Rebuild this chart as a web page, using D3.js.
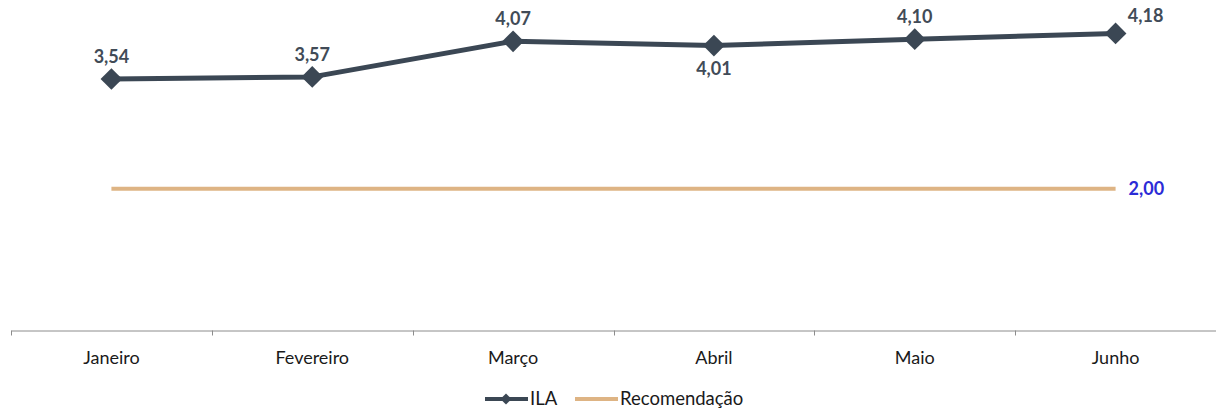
<!DOCTYPE html>
<html>
<head>
<meta charset="utf-8">
<script src="https://cdn.jsdelivr.net/npm/d3@7"></script>
<style>
  body { margin: 0; background: #fff; }
  svg { display: block; }
</style>
</head>
<body>
<div id="graph"></div>
<script>
//Data
const months = ["Janeiro", "Fevereiro", "Março", "Abril", "Maio", "Junho"];
const ila = [3.54, 3.57, 4.07, 4.01, 4.10, 4.18];
const recomendacao = [2.00, 2.00, 2.00, 2.00, 2.00, 2.00];
const labelSide = ["above", "above", "above", "below", "above", "right"];

//Display specifications
const W = 1216, H = 408;
const margin = {top: 0, right: 0, bottom: 77, left: 11};
const width = W - margin.left - margin.right;
const height = H - margin.top - margin.bottom;

const fmt = v => d3.format(".2f")(v).replace(".", ",");
const font = "Lato, 'Open Sans', sans-serif";

const svg = d3.select("#graph").append("svg")
  .attr("width", W).attr("height", H);

const g = svg.append("g")
  .attr("transform", "translate(" + margin.left + "," + margin.top + ")");

//Scales
const x = d3.scaleBand().domain(months).range([0, width]).padding(0);
const y = d3.scaleLinear().domain([0, 4.65]).range([height, 0]);
const cx = d => x(d) + x.bandwidth() / 2;

//X axis
const axis = g.append("g")
  .attr("transform", "translate(0," + (height - 0.5) + ")")
  .call(d3.axisBottom(x).tickSize(0).tickPadding(20).tickSizeOuter(0));
axis.select(".domain").attr("stroke", "#8c8c8c").attr("stroke-width", 1);
axis.selectAll("text")
  .attr("dy", null)
  .attr("y", 33.5)
  .style("font-family", font)
  .style("font-size", "18px")
  .attr("fill", "#1a1a1a");
const edges = months.map(m => x(m)).concat([width]);
axis.selectAll(".edge").data(edges).enter().append("line")
  .attr("x1", d => Math.round(d) + 0.5).attr("x2", d => Math.round(d) + 0.5)
  .attr("y1", 0).attr("y2", 5)
  .attr("stroke", "#8c8c8c");

//Recomendação line
const line = d3.line().x((d, i) => cx(months[i])).y(d => y(d));
g.append("path")
  .datum(recomendacao)
  .attr("fill", "none")
  .attr("stroke", "#deb484")
  .attr("stroke-width", 4)
  .attr("d", line);
g.append("text")
  .attr("x", cx(months[5]) + 13)
  .attr("y", y(recomendacao[5]) + 6)
  .text(fmt(recomendacao[5]))
  .style("font-family", font).style("font-weight", "bold").style("font-size", "18px")
  .attr("fill", "#2b2bd6");

//ILA line
g.append("path")
  .datum(ila)
  .attr("fill", "none")
  .attr("stroke", "#3b4754")
  .attr("stroke-width", 5)
  .attr("stroke-linejoin", "round")
  .attr("d", line);

const diamond = d3.symbol().type(d3.symbolDiamond2).size(300);
g.selectAll(".pt").data(ila).enter().append("path")
  .attr("d", diamond)
  .attr("transform", (d, i) => "translate(" + cx(months[i]) + "," + y(d) + ")")
  .attr("fill", "#3b4754");

g.selectAll(".lbl").data(ila).enter().append("text")
  .attr("x", (d, i) => labelSide[i] === "right" ? cx(months[i]) + 30 : cx(months[i]))
  .attr("y", (d, i) => labelSide[i] === "below" ? y(d) + 29 : labelSide[i] === "right" ? y(d) - 11 : y(d) - 16)
  .attr("text-anchor", "middle")
  .text(d => fmt(d))
  .style("font-family", font).style("font-weight", "bold").style("font-size", "18px")
  .attr("fill", "#414b57");

//Legend
const leg = svg.append("g").attr("transform", "translate(0,399)");
leg.append("line").attr("x1", 485).attr("x2", 528).attr("y1", 0).attr("y2", 0)
  .attr("stroke", "#3b4754").attr("stroke-width", 4);
leg.append("path").attr("d", d3.symbol().type(d3.symbolDiamond2).size(80))
  .attr("transform", "translate(506,0)").attr("fill", "#3b4754");
leg.append("text").attr("x", 530).attr("y", 6).text("ILA")
  .style("font-family", font).style("font-size", "18.5px").attr("fill", "#1a1a1a");
leg.append("line").attr("x1", 575).attr("x2", 618).attr("y1", 0).attr("y2", 0)
  .attr("stroke", "#deb484").attr("stroke-width", 4);
leg.append("text").attr("x", 620).attr("y", 6).text("Recomendação")
  .style("font-family", font).style("font-size", "18.5px").attr("fill", "#1a1a1a");
</script>
</body>
</html>
